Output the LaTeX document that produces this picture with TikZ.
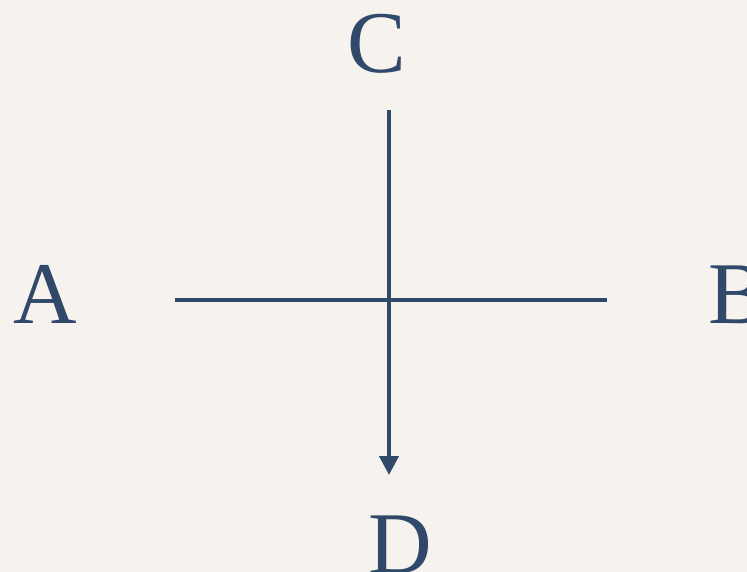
\documentclass[tikz,border=0pt]{standalone}
\usepackage{fontspec}
\setmainfont{Liberation Serif}
\usetikzlibrary{arrows.meta}
\definecolor{ink}{RGB}{48,73,107}
\definecolor{paper}{RGB}{246,243,238}
\begin{document}
\begin{tikzpicture}[x=1pt,y=-1pt,
  lbl/.style={text=ink,font=\fontsize{88}{88}\selectfont,inner sep=0pt,anchor=base},
  axis/.style={draw=ink,line width=4pt}]
\fill[paper] (0,0) rectangle (747,572);
\useasboundingbox (0,0) rectangle (747,572);
\node[lbl] (A) at (45.5,323) {A};
\node[lbl] (B) at (738,323) {B};
\node[lbl] (C) at (377,73) {C};
\node[lbl] (D) at (400,573) {D};
\coordinate (h1) at (175,299.5);
\coordinate (h2) at (607,299.5);
\coordinate (v1) at (389,110);
\coordinate (v2) at (389,475);
\draw[axis] (h1) -- (h2);
\draw[axis,-{Triangle[width=19pt,length=19pt]}] (v1) -- (v2);
\end{tikzpicture}
\end{document}
